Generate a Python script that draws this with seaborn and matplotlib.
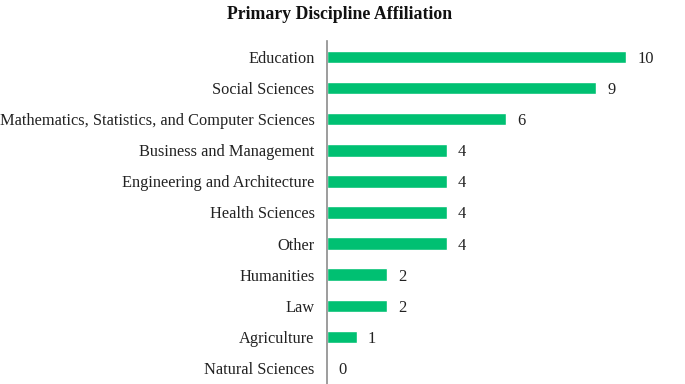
import matplotlib
matplotlib.use("Agg")
import matplotlib.pyplot as plt
import seaborn as sns
import pandas as pd

categories = ["Education", "Social Sciences", "Mathematics, Statistics, and Computer Sciences",
              "Business and Management", "Engineering and Architecture", "Health Sciences",
              "Other", "Humanities", "Law", "Agriculture", "Natural Sciences"]
counts = [10, 9, 6, 4, 4, 4, 4, 2, 2, 1, 0]
title = "Primary Discipline Affiliation"

sns.set_theme(style="white")
plt.rcParams['font.family'] = ['Liberation Serif', 'DejaVu Serif']

df = pd.DataFrame({"cat": categories, "n": counts})
fig = plt.figure(figsize=(6.85, 3.84), dpi=100)
ax = fig.add_axes([327/685, 1 - 383.5/384, (626-327)/685, (383.5-41.5)/384])
sns.barplot(data=df, y="cat", x="n", color="#00C072", saturation=1, width=0.4, ax=ax, orient="h")
ax.set_xlim(0, 10)
ax.set_ylim(10.5, -0.5)
ax.set_xlabel("")
ax.set_ylabel("")
ax.set_xticks([])
for s in ["top", "right", "bottom"]:
    ax.spines[s].set_visible(False)
ax.spines["left"].set_color("#8c8c8c")
ax.spines["left"].set_linewidth(1.2)
ax.tick_params(axis="y", length=0, pad=9, labelsize=11.75, colors="#222222")
texts = ax.bar_label(ax.containers[0], labels=[str(v) for v in counts], padding=8, fontsize=11.9, color="#222222", clip_on=False)
for t in texts:
    t.set_va("center_baseline")
fig.text(0.496, 0.963, title, ha="center", va="center", fontsize=12.8, fontweight="bold", color="#111111")
fig.savefig("out.png", dpi=100)
